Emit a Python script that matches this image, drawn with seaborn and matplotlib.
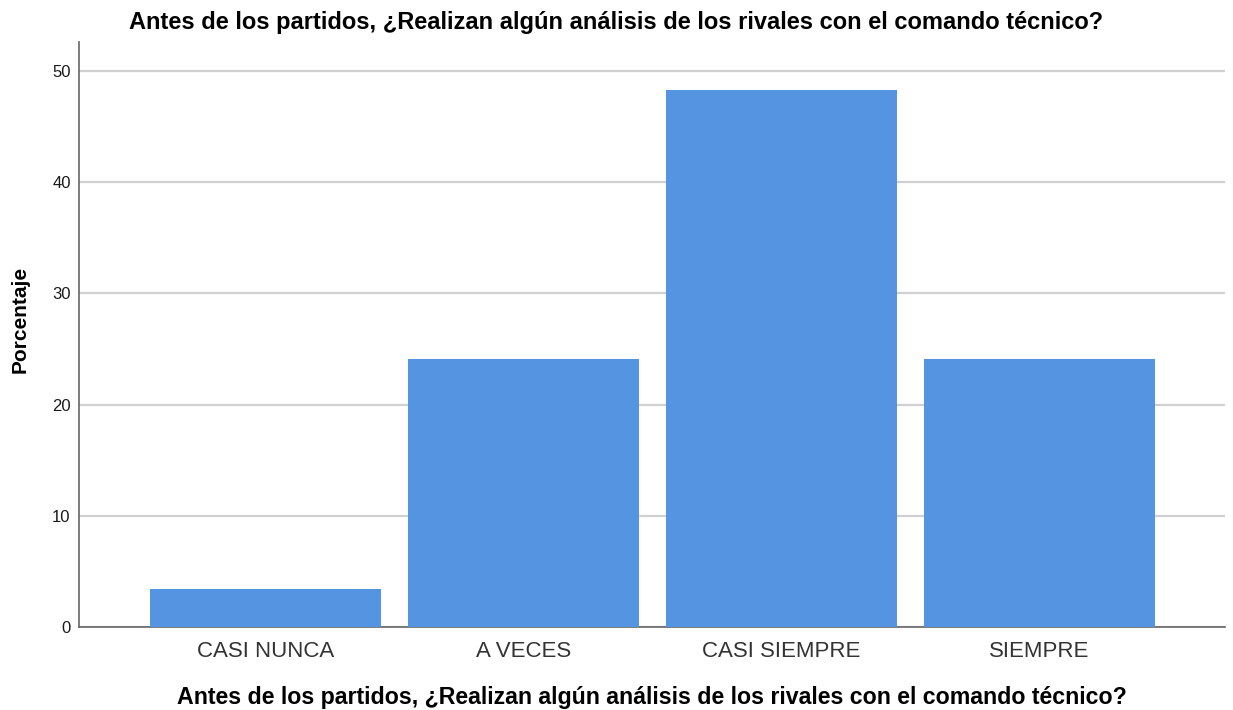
import matplotlib
matplotlib.use("Agg")
import matplotlib.pyplot as plt
import seaborn as sns
import pandas as pd

categories = ["CASI NUNCA", "A VECES", "CASI SIEMPRE", "SIEMPRE"]
percentages = [3.45, 24.14, 48.28, 24.14]
y_ticks = [0, 10, 20, 30, 40, 50]
title = "Antes de los partidos, ¿Realizan algún análisis de los rivales con el comando técnico?"

sns.set_theme(style="white")
plt.rcParams['font.family'] = ['Liberation Sans', 'DejaVu Sans']

df = pd.DataFrame({"cat": categories, "pct": percentages})

fig = plt.figure(figsize=(12.33, 7.10), dpi=100)
ax = fig.add_axes([0.0641, 0.1169, 0.9294, 0.8239])

sns.barplot(data=df, x="cat", y="pct", order=categories, color="#5594e0",
            saturation=1, width=0.895, linewidth=0, ax=ax, zorder=3)

ax.set_xlim(-0.723, 3.719)
ax.set_ylim(0, 52.6)
ax.set_yticks(y_ticks)
ax.set_yticklabels([str(t) for t in y_ticks], fontsize=12, color="#1a1a1a")
ax.tick_params(axis="x", labelsize=16, colors="#333333", length=0, pad=10)
ax.tick_params(axis="y", length=0, pad=6)
ax.yaxis.grid(True, color="#d0d0d0", linewidth=1.6, zorder=0)
ax.set_axisbelow(True)

for s in ["top", "right"]:
    ax.spines[s].set_visible(False)
for s in ["left", "bottom"]:
    ax.spines[s].set_color("#666666")
    ax.spines[s].set_linewidth(1.2)

ax.set_ylabel("Porcentaje", fontsize=15, fontweight="bold", color="black")
ax.yaxis.set_label_coords(-0.0428, 0.525)
ax.set_xlabel(title, fontsize=16.7, fontweight="bold", labelpad=17, color="black")
fig.suptitle(title, fontsize=17, fontweight="bold", x=0.5, y=0.984, color="black")

fig.savefig("out.png", dpi=100, facecolor="white")
